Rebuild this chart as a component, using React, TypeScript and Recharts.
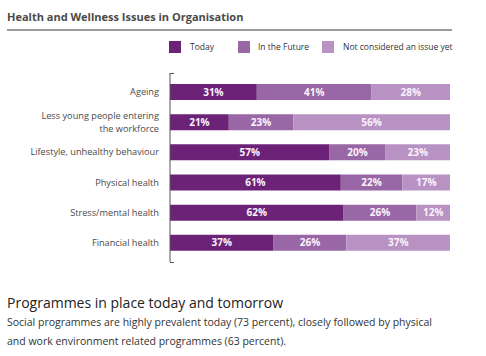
import { BarChart, Bar, XAxis, YAxis, LabelList } from 'recharts';

const categories = [
    'Ageing',
    'Less young people entering\nthe workforce',
    'Lifestyle, unhealthy behaviour',
    'Physical health',
    'Stress/mental health',
    'Financial health',
];
const today = [31, 21, 57, 61, 62, 37];
const future = [41, 23, 20, 22, 26, 26];
const notYet = [28, 56, 23, 17, 12, 37];

const SERIES = [
    { key: 'today', name: 'Today', color: '#6b2277' },
    { key: 'future', name: 'In the Future', color: '#9967a6' },
    { key: 'notYet', name: 'Not considered an issue yet', color: '#b892c3' },
];

const FONT = '"Open Sans", "Noto Sans", sans-serif';

const chartData = categories.map((name, i) => ({
    name,
    today: today[i],
    future: future[i],
    notYet: notYet[i],
}));

function CategoryTick({ x, y, payload }: any) {
    const lines = String(payload.value).split('\n');
    const lh = 12.5;
    const start = -((lines.length - 1) * lh) / 2;
    return (
        <text x={x} y={y} textAnchor="end" fill="#4a4a4a" fontSize={9.2} fontFamily={FONT}>
            {lines.map((l, i) => (
                <tspan key={i} x={x} dy={i === 0 ? start + 3 : lh}>{l}</tspan>
            ))}
        </text>
    );
}

export default function App() {
    return (
        <div style={{ position: 'absolute', left: 0, top: 0, width: 486, height: 356, background: '#fff', fontFamily: FONT }}>
            <div style={{ position: 'absolute', left: 7, top: 9, fontSize: 11, fontWeight: 700, color: '#4a4a4a', whiteSpace: 'nowrap' }}>
                Health and Wellness Issues in Organisation
            </div>
            <div style={{ position: 'absolute', left: 7, top: 29, width: 445, height: 1.5, background: '#9a9a9a' }} />

            {/* legend */}
            {SERIES.map((s, i) => {
                const sx = [169, 238, 322][i];
                const tx = [190, 258, 343][i];
                return (
                    <div key={s.key}>
                        <div style={{ position: 'absolute', left: sx, top: 41, width: 12, height: 12, background: s.color }} />
                        <div style={{ position: 'absolute', left: tx, top: 41, fontSize: 8.5, lineHeight: '12px', color: '#333', whiteSpace: 'nowrap' }}>
                            {s.name}
                        </div>
                    </div>
                );
            })}

            <div style={{ position: 'absolute', left: 0, top: 0 }}>
                <BarChart
                    width={486}
                    height={280}
                    data={chartData}
                    layout="vertical"
                    margin={{ top: 73, right: 36, left: 0, bottom: 18 }}
                    barCategoryGap={7}
                >
                    <XAxis type="number" domain={[0, 100]} hide />
                    <YAxis
                        type="category"
                        dataKey="name"
                        width={170}
                        padding={{ top: 4, bottom: 4 }}
                        axisLine={{ stroke: '#555', strokeWidth: 1 }}
                        tickLine={false}
                        tickSize={6}
                        tickMargin={5}
                        tick={<CategoryTick />}
                        interval={0}
                    />
                    {SERIES.map(s => (
                        <Bar key={s.key} dataKey={s.key} stackId="a" fill={s.color} isAnimationActive={false}>
                            <LabelList
                                dataKey={s.key}
                                position="center"
                                formatter={(v: any) => `${v}%`}
                                fill="#fbf3fd"
                                fontSize={10}
                                fontWeight={700}
                                fontFamily={FONT}
                            />
                        </Bar>
                    ))}
                </BarChart>
            </div>
            {/* bracket ends of the axis */}
            <div style={{ position: 'absolute', left: 170, top: 72.5, width: 4, height: 1, background: '#555' }} />
            <div style={{ position: 'absolute', left: 170, top: 261.5, width: 4, height: 1, background: '#555' }} />

            <div style={{ position: 'absolute', left: 7, top: 293, fontSize: 14, color: '#222', whiteSpace: 'nowrap' }}>
                Programmes in place today and tomorrow
            </div>
            <div style={{ position: 'absolute', left: 7, top: 313, width: 438, fontSize: 10.5, lineHeight: '19px', color: '#333' }}>
                Social programmes are highly prevalent today (73 percent), closely followed by physical and work environment related programmes (63 percent).
            </div>
        </div>
    );
}
